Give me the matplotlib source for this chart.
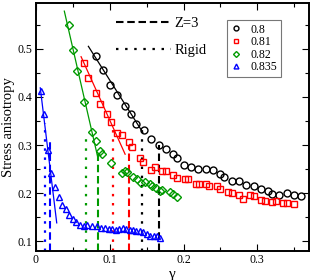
import matplotlib
matplotlib.use('Agg')
import matplotlib.pyplot as plt
from matplotlib.lines import Line2D
from matplotlib.ticker import MultipleLocator

plt.rcParams['font.family'] = ['Liberation Serif', 'DejaVu Serif']

# packing fractions
labels = ['0.8', '0.81', '0.82', '0.835']
colors = ['black', '#ff0000', '#009a00', '#0000ff']
markers = ['o', 's', 'D', '^']

# stress anisotropy vs strain
g080 = [0.0814, 0.0905, 0.1004, 0.1103, 0.1208, 0.1289, 0.1357, 0.1459, 0.1556, 0.1662,
        0.1757, 0.1852, 0.1906, 0.2008, 0.2103, 0.2198, 0.2300, 0.2395, 0.2497, 0.2551,
        0.2655, 0.2754, 0.2849, 0.2948, 0.3050, 0.3141, 0.3195, 0.3300, 0.3402, 0.3501, 0.3596]
s080 = [0.4856, 0.4564, 0.4251, 0.4036, 0.3818, 0.3645, 0.3447, 0.3311, 0.3123, 0.3008,
        0.2914, 0.2820, 0.2737, 0.2591, 0.2543, 0.2503, 0.2497, 0.2480, 0.2392, 0.2330,
        0.2253, 0.2253, 0.2177, 0.2146, 0.2086, 0.2048, 0.1985, 0.1954, 0.1996, 0.1954, 0.1944]

g081 = [0.0656, 0.0710, 0.0808, 0.0862, 0.0964, 0.1018, 0.1099, 0.1161, 0.1258, 0.1299,
        0.1412, 0.1452, 0.1558, 0.1608, 0.1710, 0.1760, 0.1853, 0.1910, 0.2013, 0.2054,
        0.2165, 0.2203, 0.2308, 0.2348, 0.2453, 0.2498, 0.2606, 0.2656, 0.2749, 0.2800,
        0.2895, 0.2950, 0.3051, 0.3108, 0.3199, 0.3254, 0.3353, 0.3403, 0.3498]
s081 = [0.4710, 0.4386, 0.4079, 0.3843, 0.3645, 0.3489, 0.3248, 0.3207, 0.3067, 0.2967,
        0.2741, 0.2643, 0.2476, 0.2549, 0.2461, 0.2461, 0.2382, 0.2324, 0.2288, 0.2303,
        0.2194, 0.2184, 0.2184, 0.2148, 0.2142, 0.2079, 0.2027, 0.1996, 0.1954, 0.1887,
        0.1954, 0.1944, 0.1856, 0.1835, 0.1818, 0.1835, 0.1787, 0.1787, 0.1766]

g082 = [0.0452, 0.0506, 0.0561, 0.0652, 0.0760, 0.0818, 0.0862, 0.0900, 0.1011, 0.1161,
        0.1201, 0.1235, 0.1310, 0.1364, 0.1422, 0.1479, 0.1541, 0.1575, 0.1629, 0.1676,
        0.1710, 0.1811, 0.1863, 0.1909]
s082 = [0.5503, 0.4967, 0.4528, 0.3889, 0.3280, 0.3088, 0.2879, 0.2810, 0.2637, 0.2424,
        0.2466, 0.2441, 0.2334, 0.2288, 0.2211, 0.2236, 0.2194, 0.2152, 0.2115, 0.2048,
        0.2065, 0.2027, 0.1985, 0.1927]

g0835 = [0.0068, 0.0109, 0.0167, 0.0206, 0.0251, 0.0309, 0.0356, 0.0400, 0.0452, 0.0498,
         0.0547, 0.0597, 0.0645, 0.0696, 0.0756, 0.0821, 0.0880, 0.0930, 0.0984, 0.1032,
         0.1079, 0.1127, 0.1174, 0.1222, 0.1269, 0.1310, 0.1357, 0.1404, 0.1452, 0.1499,
         0.1547, 0.1594, 0.1639, 0.1676]
s0835 = [0.4125, 0.3645, 0.2894, 0.2428, 0.2121, 0.1923, 0.1745, 0.1672, 0.1557, 0.1474,
         0.1407, 0.1338, 0.1328, 0.1338, 0.1328, 0.1317, 0.1286, 0.1276, 0.1265, 0.1255,
         0.1230, 0.1265, 0.1276, 0.1255, 0.1234, 0.1244, 0.1223, 0.1223, 0.1192, 0.1161,
         0.1119, 0.1104, 0.1104, 0.1077]

# linear fits (end points)
fit_g = [[0.071, 0.1447], [0.0611, 0.1208], [0.0384, 0.0834], [0.0058, 0.0281]]
fit_s = [[0.505, 0.3263], [0.4835, 0.2810], [0.5781, 0.2768], [0.4188, 0.1384]]

# Z=3 (dashed) and rigid (dotted) strains
z3_g = [0.1665, 0.1266, 0.0834, 0.0190]
z3_top = [0.300, 0.300, 0.285, 0.310]
rigid_g = [0.1434, 0.1049, 0.0678, 0.0122]
rigid_top = [0.342, 0.332, 0.325, 0.346]

gam = [g080, g081, g082, g0835]
sig = [s080, s081, s082, s0835]

fig = plt.figure(figsize=(3.1, 2.8), dpi=100)
ax = fig.add_axes([0.1161, 0.1036, 0.8807, 0.8857])
ax.set_xlim(0, 0.37)
ax.set_ylim(0.08, 0.595)
ybot = ax.get_ylim()[0]

dash = (0, (3.6, 1.8))
dots = (0, (1.1, 3))

handles = []
for i in range(4):
    h, = ax.plot(gam[i], sig[i], linestyle='none', marker=markers[i], mfc='none',
                 mec=colors[i], mew=1.0, ms=5 if markers[i] != 'D' else 4.3, label=labels[i])
    handles.append(h)
    ax.plot(fit_g[i], fit_s[i], color=colors[i], lw=0.9)
    ax.vlines(z3_g[i], ybot, z3_top[i], colors=colors[i], linestyles=[dash], lw=1.5)
    ax.vlines(rigid_g[i], ybot, rigid_top[i], colors=colors[i], linestyles=[dots], lw=1.6)

ax.xaxis.set_major_locator(MultipleLocator(0.1))
ax.xaxis.set_minor_locator(MultipleLocator(0.05))
ax.yaxis.set_major_locator(MultipleLocator(0.1))
ax.yaxis.set_minor_locator(MultipleLocator(0.05))
ax.xaxis.set_major_formatter(plt.FuncFormatter(lambda v, p: '0' if abs(v) < 1e-9 else f'{v:g}'))
ax.tick_params(which='both', direction='in', top=True, right=True, width=0.8, labelsize=8.5)
ax.tick_params(which='major', length=5, pad=2.5)
ax.tick_params(which='minor', length=3)
for sp in ax.spines.values():
    sp.set_linewidth(1.4)

ax.set_xlabel('γ', fontsize=11, labelpad=1)
ax.set_ylabel('Stress anisotropy', fontsize=10.5, labelpad=2)

kind = [Line2D([], [], color='black', lw=1.5, linestyle=dash),
        Line2D([], [], color='black', lw=1.6, linestyle=dots)]
leg1 = ax.legend(kind, ['Z=3', 'Rigid'], loc='upper left', bbox_to_anchor=(0.293, 0.945),
                 frameon=False, fontsize=10.5, handlelength=3.8, handletextpad=0.2,
                 labelspacing=0.95, borderpad=0, borderaxespad=0)
ax.add_artist(leg1)

ax.legend(handles=handles, loc='upper left', bbox_to_anchor=(0.6985, 0.9315),
          fontsize=8.5, markerscale=0.7, handlelength=1.0, handletextpad=0.7,
          labelspacing=0.05, borderpad=0.3, borderaxespad=0, fancybox=False,
          edgecolor='#777777', framealpha=1)
ax.get_legend().get_frame().set_linewidth(0.8)

fig.savefig('out.png', dpi=100)
